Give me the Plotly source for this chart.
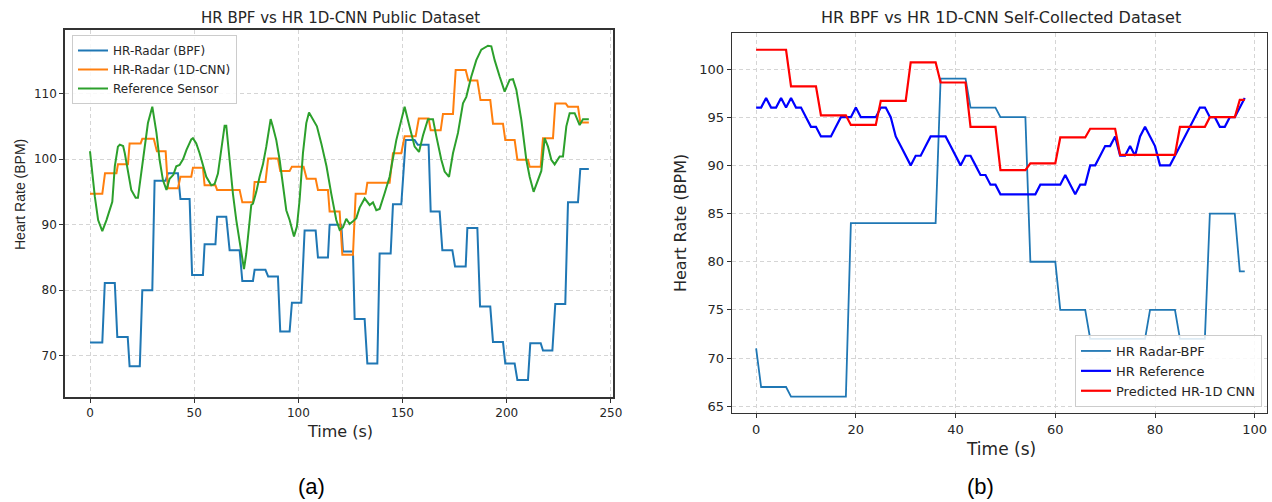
import plotly.graph_objects as go

# ---------------- data: (a) public dataset ----------------
pub_bpf_t = [0, 5.9, 7.1, 11.9, 13.1, 18.1, 19, 23.9, 25.1, 29.9, 31, 36.3, 37.4, 42.2, 43.4, 47.8,
             49, 54.2, 55, 60.2, 61, 65.4, 67, 71.8, 73.1, 78.2, 79, 84.2, 85.5, 90.2, 91.3, 95.8,
             96.9, 101.4, 103, 108.3, 109.4, 114.2, 115, 120.6, 121.4, 126.2, 127, 131.8, 133.1, 137.9,
             139, 144.3, 145.4, 149.4, 151.5, 155.8, 157.3, 162.5, 163.5, 167.8, 169.1, 173.9, 175.2, 180.3,
             181.1, 185.9, 187.2, 192.1, 193.4, 198.2, 199.3, 203.8, 205.1, 210.2, 211.3, 216.3, 217.4, 221.9,
             223.3, 228.1, 229.4, 234.2, 235.3, 239.4]
pub_bpf_hr = [72.0, 72.0, 81.1, 81.1, 72.85, 72.85, 68.4, 68.4, 80.0, 80.0, 96.7, 96.7, 97.85, 97.85, 93.9, 93.9,
              82.3, 82.3, 87.0, 87.0, 91.2, 91.2, 86.1, 86.1, 81.4, 81.4, 83.1, 83.1, 82.1, 82.1, 73.7, 73.7,
              78.1, 78.1, 89.1, 89.1, 85.0, 85.0, 90.0, 90.0, 85.9, 85.9, 75.6, 75.6, 68.8, 68.8,
              85.6, 85.6, 93.1, 93.1, 102.9, 102.9, 102.2, 102.2, 92.0, 92.0, 86.1, 86.1, 83.6, 83.6,
              89.5, 89.5, 77.5, 77.5, 72.1, 72.1, 68.8, 68.8, 66.3, 66.3, 71.9, 71.9, 70.8, 70.8,
              77.9, 77.9, 93.4, 93.4, 98.5, 98.5]

pub_cnn_t = [0, 5.9, 7.2, 12.7, 13.4, 18.2, 19, 24.3, 25.1, 30.6, 32.1, 36.3, 37.4, 42.2, 43.4, 48.6,
             49.4, 54.2, 55, 60.2, 61, 71.8, 73.1, 78.2, 79, 84.2, 85.5, 90.2, 91.3, 95.8, 96.9, 102.5,
             104, 108.3, 109.4, 114.2, 115, 119.8, 121.1, 126.2, 127.5, 132.3, 133.1, 143.8, 145.4, 149.4,
             151, 156.3, 157.8, 162.5, 163.5, 168.3, 169.4, 174.2, 175.5, 180.3, 181.6, 185.9, 187.4, 192.1,
             193.4, 198.2, 199.3, 203.8, 205.1, 210.2, 211, 216.3, 217.4, 222.2, 223.3, 228.3, 229.4, 234.2,
             235.3, 239.4]
pub_cnn_hr = [94.7, 94.7, 97.85, 97.85, 99.2, 99.2, 102.4, 102.4, 103.1, 103.1, 101.2, 101.2, 95.55, 95.55, 97.3, 97.3,
              98.7, 98.7, 96.0, 96.0, 95.3, 95.3, 93.4, 93.4, 96.5, 96.5, 100.1, 100.1, 98.2, 98.2, 98.85, 98.85,
              97.0, 97.0, 95.3, 95.3, 92.0, 92.0, 85.4, 85.4, 94.7, 94.7, 96.4, 96.4, 100.9, 100.9,
              103.5, 103.5, 106.2, 106.2, 104.4, 104.4, 106.9, 106.9, 113.6, 113.6, 112.0, 112.0, 109.0, 109.0,
              105.4, 105.4, 102.9, 102.9, 99.9, 99.9, 98.85, 98.85, 103.2, 103.2, 108.5, 108.5, 108.0, 108.0,
              105.6, 105.6]

pub_ref_t = [0, 2.3, 3.9, 5.9, 7.9, 9.5, 10.7, 11.9, 13.4, 14.3, 15.9, 16.7, 18.2, 19.8, 21.9, 23.0,
             24.6, 26.2, 27.8, 29.9, 31.9, 33.4, 35.0, 36.7, 38.2, 40.0, 41.4, 43.0, 44.7, 46.3, 48.6, 49.4,
             51.0, 52.6, 54.2, 55.8, 58.2, 59.8, 61.4, 63.0, 64.6, 65.4, 67.0, 68.6, 70.2, 71.8, 73.9, 75.0,
             76.6, 77.4, 78.2, 79.8, 81.4, 83.0, 84.6, 86.7, 87.8, 89.4, 91.0, 92.6, 94.2, 95.8, 97.9, 99.3,
             100.6, 102.2, 103.8, 105.1, 107.0, 108.9, 111.0, 113.5, 115.8, 118.2, 119.8, 121.4, 123.0, 124.6,
             126.2, 127.8, 129.4, 131.8, 134.2, 135.8, 137.4, 139.0, 141.4, 143.8, 147.0, 148.6, 151.0, 153.4,
             155.8, 157.9, 159.8, 162.2, 164.6, 166.2, 168.6, 170.2, 172.3, 174.2, 176.6, 179.0, 180.6, 183.0,
             185.4, 187.8, 191.0, 192.6, 194.2, 196.6, 199.0, 201.4, 203.0, 204.6, 207.0, 209.4, 211.0, 212.9,
             215.0, 216.6, 218.2, 219.8, 221.4, 223.0, 225.4, 227.0, 228.6, 230.2, 232.6, 235.0, 236.6, 239.4]
pub_ref_hr = [101.2, 94.3, 90.7, 89.0, 90.7, 92.2, 93.5, 98.9, 101.9, 102.2, 102.0, 100.9, 98.4, 95.3, 94.1, 94.1,
              97.9, 101.5, 105.5, 108.0, 104.0, 99.9, 96.8, 95.3, 97.0, 97.6, 98.9, 99.1, 100.0, 101.4, 103.0, 103.2,
              102.4, 100.9, 98.9, 97.3, 96.0, 96.2, 97.8, 101.9, 105.1, 105.1, 99.9, 94.7, 90.7, 87.6, 83.2, 85.6,
              90.7, 93.0, 93.2, 95.0, 97.3, 99.2, 101.9, 106.1, 104.9, 102.9, 99.9, 95.8, 92.2, 90.7, 88.2, 89.7,
              93.8, 100.9, 105.5, 107.1, 106.0, 105.0, 102.4, 98.9, 94.7, 90.7, 89.2, 89.6, 90.9, 90.1,
              90.5, 91.0, 92.6, 94.0, 93.0, 93.4, 92.2, 92.4, 94.8, 97.3, 102.9, 104.9, 108.0, 104.9,
              101.9, 101.1, 103.6, 106.1, 106.1, 103.5, 99.9, 98.1, 97.3, 100.9, 104.0, 108.5, 109.5, 112.6,
              115.1, 116.7, 117.3, 117.2, 115.1, 112.6, 110.3, 112.1, 112.2, 110.6, 106.0, 99.9, 97.3, 95.0,
              96.7, 98.2, 103.2, 101.9, 99.9, 99.2, 100.4, 100.4, 105.0, 107.0, 107.0, 105.2, 106.1, 106.1]

# ---------------- data: (b) self-collected dataset ----------------
self_ref_t = list(range(0, 99))
self_ref_hr = [96, 96, 97, 96, 96, 97, 96, 97, 96, 96,
               95, 94, 94, 93, 93, 93, 94, 95, 95, 95,
               96, 95, 95, 95, 95, 96, 96, 95, 93, 92,
               91, 90, 91, 91, 92, 93, 93, 93, 93, 92,
               91, 90, 91, 91, 90, 89, 89, 88, 88, 87,
               87, 87, 87, 87, 87, 87, 87, 88, 88, 88,
               88, 88, 89, 88, 87, 88, 88, 90, 90, 91,
               92, 92, 93, 91, 91, 92, 91, 93, 94, 93,
               92, 90, 90, 90, 91, 92, 93, 94, 95, 96,
               96, 95, 95, 94, 94, 95, 95, 96, 97]

self_bpf_t = [0, 1, 6, 7, 18, 19, 36, 37, 42, 43, 48, 49, 54, 55, 60, 61, 66, 67, 78, 79, 84, 85, 90, 91, 96, 97, 98]
self_bpf_hr = [71, 67, 67, 66, 66, 84, 84, 99, 99, 96, 96, 95, 95, 80, 80, 75, 75, 72, 72, 75, 75, 72, 72, 85, 85, 79, 79]

self_cnn_t = [0, 6, 7, 12, 13, 18, 19, 24, 25, 30, 31, 36, 37, 42, 43, 48, 49, 54, 55, 60, 61, 66, 67, 72,
              73, 84, 85, 90, 91, 96, 97, 98]
self_cnn_hr = [102, 102, 98.2, 98.2, 95.2, 95.2, 94.2, 94.2, 96.7, 96.7, 100.7, 100.7, 98.6, 98.6, 94.0, 94.0,
               89.5, 89.5, 90.2, 90.2, 92.9, 92.9, 93.8, 93.8, 91.1, 91.1, 94.0, 94.0, 95.0, 95.0, 96.8, 96.8]

pub_xticks = [0, 50, 100, 150, 200, 250]
pub_yticks = [70, 80, 90, 100, 110]
self_xticks = [0, 20, 40, 60, 80, 100]
self_yticks = [65, 70, 75, 80, 85, 90, 95, 100]

# ---------------- layout helpers ----------------
W, H = 1272, 502
FONT = "DejaVu Sans"
TXT = "#262626"


def px(x):
    return x / W


def py(y):
    return 1 - y / H


fig = go.Figure()

fig.add_trace(go.Scatter(x=pub_bpf_t, y=pub_bpf_hr, mode="lines", name="HR-Radar (BPF)",
                         line=dict(color="#1f77b4", width=2), xaxis="x", yaxis="y", legend="legend"))
fig.add_trace(go.Scatter(x=pub_cnn_t, y=pub_cnn_hr, mode="lines", name="HR-Radar (1D-CNN)",
                         line=dict(color="#ff7f0e", width=2), xaxis="x", yaxis="y", legend="legend"))
fig.add_trace(go.Scatter(x=pub_ref_t, y=pub_ref_hr, mode="lines", name="Reference Sensor",
                         line=dict(color="#2ca02c", width=2), xaxis="x", yaxis="y", legend="legend"))

fig.add_trace(go.Scatter(x=self_bpf_t, y=self_bpf_hr, mode="lines", name="HR Radar-BPF",
                         line=dict(color="#1f77b4", width=1.8), xaxis="x2", yaxis="y2", legend="legend2"))
fig.add_trace(go.Scatter(x=self_ref_t, y=self_ref_hr, mode="lines", name="HR Reference",
                         line=dict(color="#0000ff", width=2.2), xaxis="x2", yaxis="y2", legend="legend2"))
fig.add_trace(go.Scatter(x=self_cnn_t, y=self_cnn_hr, mode="lines", name="Predicted HR-1D CNN",
                         line=dict(color="#ff0000", width=2.2), xaxis="x2", yaxis="y2", legend="legend2"))

grid = dict(showgrid=True, gridcolor="#d5d5d5", griddash="4px,3px", gridwidth=1,
            showline=True, mirror=True, linecolor="#333333", ticks="outside",
            tickcolor="#333333", zeroline=False, automargin=False)

fig.update_layout(
    width=W, height=H, margin=dict(l=0, r=0, t=0, b=0, autoexpand=False),
    paper_bgcolor="white", plot_bgcolor="white",
    font=dict(family=FONT, color=TXT),
    xaxis=dict(domain=[px(65), px(613)], range=[-12, 251], tickvals=pub_xticks, anchor="y",
               ticklen=4, linewidth=1.6, tickfont=dict(size=12, color=TXT), **grid),
    yaxis=dict(domain=[py(397), py(30)], range=[63.7, 119.7], tickvals=pub_yticks, anchor="x",
               ticklen=4, linewidth=1.6, tickfont=dict(size=12, color=TXT), **grid),
    xaxis2=dict(domain=[px(731.7), px(1266.7)], range=[-4.9, 102.4], tickvals=self_xticks, anchor="y2",
                ticklen=4, linewidth=1.2, tickfont=dict(size=13, color=TXT), **grid),
    yaxis2=dict(domain=[py(413.3), py(32.7)], range=[64.27, 103.77], tickvals=self_yticks, anchor="x2",
                ticklen=4, linewidth=1.2, tickfont=dict(size=13, color=TXT), **grid),
    legend=dict(x=px(72), y=py(35), xanchor="left", yanchor="top",
                bgcolor="rgba(255,255,255,0.85)", bordercolor="#cccccc", borderwidth=1,
                font=dict(size=12, color=TXT, family=FONT), itemwidth=30),
    legend2=dict(x=px(1262), y=py(407), xanchor="right", yanchor="bottom",
                 bgcolor="rgba(255,255,255,0.85)", bordercolor="#cccccc", borderwidth=1,
                 font=dict(size=13, color=TXT, family=FONT), itemwidth=30),
    showlegend=True,
)

annos = [
    dict(text="HR BPF vs HR 1D-CNN Public Dataset", x=px(340), y=py(18), font=dict(size=15)),
    dict(text="HR BPF vs HR 1D-CNN Self-Collected Dataset", x=px(1001), y=py(18), font=dict(size=16)),
    dict(text="Time (s)", x=px(340), y=py(431), font=dict(size=16)),
    dict(text="Time (s)", x=px(1001), y=py(449), font=dict(size=17)),
    dict(text="Heart Rate (BPM)", x=px(20), y=py(195), textangle=-90,
         font=dict(size=14, family="Liberation Sans")),
    dict(text="Heart Rate (BPM)", x=px(680), y=py(223), textangle=-90, font=dict(size=16)),
    dict(text="(a)", x=px(311), y=py(486), font=dict(size=22, family="Liberation Sans", color="#000000")),
    dict(text="(b)", x=px(980), y=py(486), font=dict(size=22, family="Liberation Sans", color="#000000")),
]
for a in annos:
    fig.add_annotation(xref="paper", yref="paper", showarrow=False, xanchor="center", yanchor="middle", **a)

fig.write_html("out.html", config={"displayModeBar": False},
               post_script="document.body.style.margin='0';document.body.style.overflow='hidden';")
